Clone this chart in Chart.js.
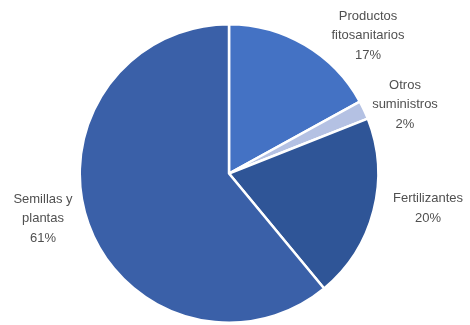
<!DOCTYPE html>
<html lang="es">
<head>
    <meta charset="UTF-8">
    <title>Distribución de gastos</title>
    <script src="https://cdn.jsdelivr.net/npm/chart.js"></script>
    <style>
        body { margin: 0; background: #fff; }
        canvas { display: block; }
    </style>
</head>
<body>
    <canvas id="pieChart" width="470" height="325"></canvas>

    <script>
        const categories = [['Productos', 'fitosanitarios'], ['Otros', 'suministros'], ['Fertilizantes'], ['Semillas y', 'plantas']];
        const shares = [17, 2, 20, 61];
        const sliceColors = ['#4472C4', '#B4C1E3', '#2F5597', '#3A60A8'];

        // label centres, offset from the pie centre (Excel "best fit" placement)
        const labelOffsets = [[139, -138], [176, -69], [199, 35], [-186, 45]];

        const labelPlugin = {
            id: 'sliceLabels',
            afterDatasetsDraw(chart) {
                const ctx = chart.ctx;
                const arcs = chart.getDatasetMeta(0).data;
                ctx.save();
                ctx.font = '13px "Liberation Sans", Arial, sans-serif';
                ctx.fillStyle = '#505050';
                ctx.textAlign = 'center';
                ctx.textBaseline = 'middle';
                const lineH = 19.5;
                arcs.forEach((arc, i) => {
                    const lines = categories[i].concat([shares[i] + '%']);
                    const cx = arc.x + labelOffsets[i][0];
                    const cy = arc.y + labelOffsets[i][1];
                    const top = cy - (lines.length - 1) * lineH / 2;
                    lines.forEach((t, j) => ctx.fillText(t, cx, top + j * lineH));
                });
                ctx.restore();
            }
        };

        new Chart(document.getElementById('pieChart').getContext('2d'), {
            type: 'pie',
            data: {
                labels: categories.map(c => c.join(' ')),
                datasets: [{
                    data: shares,
                    backgroundColor: sliceColors,
                    borderColor: '#ffffff',
                    borderWidth: 2.5
                }]
            },
            options: {
                responsive: false,
                animation: false,
                layout: { padding: { top: 23, bottom: 1, left: 0, right: 12 } },
                plugins: {
                    legend: { display: false },
                    tooltip: { enabled: false }
                }
            },
            plugins: [labelPlugin]
        });
    </script>
</body>
</html>
